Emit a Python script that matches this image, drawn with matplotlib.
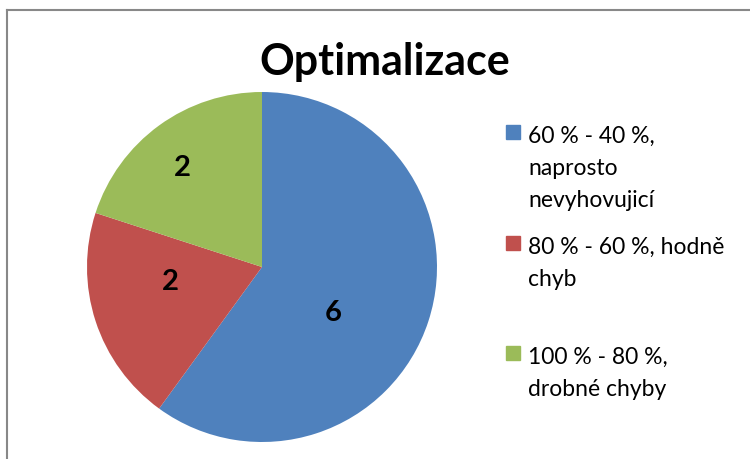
import numpy as np
import matplotlib.pyplot as plt
from matplotlib.patches import Rectangle
from matplotlib.lines import Line2D

plt.rcParams['font.family'] = ['Lato', 'DejaVu Sans']

# data
title = "Optimalizace"
labels = ["60 % - 40 %,\nnaprosto\nnevyhovujicí",
          "80 % - 60 %, hodně\nchyb",
          "100 % - 80 %,\ndrobné chyby"]
values = [6, 2, 2]
colors = ["#4F81BD", "#C0504D", "#9BBB59"]

# layout: label angle (deg) and radius fraction, legend first baselines (px from top)
label_pos = [(-32, 0.48), (188.6, 0.53), (128.7, 0.73)]
legend_y = [143, 254, 364]
line_h = 32

W, H = 750, 460
fig = plt.figure(figsize=(7.5, 4.6), dpi=100)

# pie axes: centre (262, 268) px, radius 175 px
cx, cy, r = 262, 268, 175
ax = fig.add_axes([(cx - r) / W, 1 - (cy + r) / H, 2 * r / W, 2 * r / H])
wedges, _ = ax.pie(values, colors=colors, startangle=90, counterclock=False,
                   radius=1.0, wedgeprops=dict(linewidth=0))
ax.set_xlim(-1, 1)
ax.set_ylim(-1, 1)
ax.set_aspect('auto')
ax.axis('off')

for v, (ang, rr) in zip(values, label_pos):
    a = np.deg2rad(ang)
    ax.text(rr * np.cos(a), rr * np.sin(a), str(v), ha='center', va='center',
            fontsize=21, fontweight='bold', color='black')

# title
fig.text(385 / W, 1 - 62 / H, title, ha='center', va='center',
         fontsize=31, fontweight='bold')

# legend, one text per line so spacing can follow the original
for lab, col, y in zip(labels, colors, legend_y):
    fig.patches.append(Rectangle((506 / W, 1 - (y - 3) / H), 14 / W, 14 / H,
                                 transform=fig.transFigure, color=col))
    for i, line in enumerate(lab.split("\n")):
        fig.text(528 / W, 1 - (y + i * line_h) / H, line, ha='left', va='baseline',
                 fontsize=16.5, color='black')

# chart border (left and top edges visible)
fig.lines.append(Line2D([7 / W, 7 / W], [0, 1 - 11 / H], transform=fig.transFigure,
                        color='#888888', linewidth=1.5))
fig.lines.append(Line2D([7 / W, 1], [1 - 11 / H, 1 - 11 / H], transform=fig.transFigure,
                        color='#888888', linewidth=1.5))

fig.savefig("out.png", dpi=100)
